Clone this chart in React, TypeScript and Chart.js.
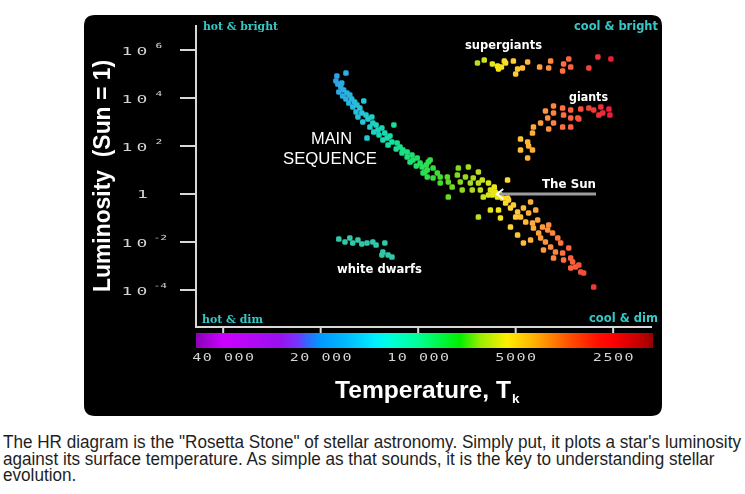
import React, { useEffect, useLayoutEffect, useRef } from 'react';
import { Chart, registerables } from 'chart.js';

Chart.register(...registerables);

// ---------- DATA ----------
// Each star: [log10 temperature (K), log10 luminosity (Sun = 1)]
const MAIN_SEQUENCE: [number, number][] = [
  [4.223, 5.04], [4.251, 4.92], [4.254, 4.71], [4.248, 4.58], [4.236, 4.63], [4.239, 4.46], [4.230, 4.33], [4.245, 4.25], [4.220, 4.21], [4.211, 4.13],
  [4.233, 4.08], [4.223, 3.96], [4.205, 3.96], [4.196, 3.83], [4.214, 3.79], [4.202, 3.63], [4.189, 3.71], [4.180, 3.58], [4.168, 3.88], [4.192, 3.42],
  [4.174, 3.38], [4.186, 3.21], [4.161, 3.29], [4.155, 3.13], [4.143, 3.21], [4.171, 3.00], [4.140, 2.96], [4.149, 2.79], [4.130, 2.88], [4.124, 2.67],
  [4.112, 2.75], [4.137, 2.58], [4.121, 2.46], [4.103, 2.54], [4.096, 2.33], [4.087, 2.42], [4.109, 2.25], [4.075, 2.88], [4.081, 2.17], [4.065, 2.13],
  [4.093, 2.04], [4.056, 1.96], [4.068, 1.88], [4.047, 1.83], [4.050, 1.71], [4.034, 1.75], [4.034, 1.54], [4.019, 1.63], [4.016, 1.42], [4.025, 1.33],
  [4.003, 1.50], [3.994, 1.29], [4.006, 1.17], [3.988, 1.13], [3.975, 1.21], [3.963, 1.42], [3.972, 1.00], [3.954, 1.08], [3.985, 0.88], [3.941, 0.88],
  [3.954, 0.67], [3.972, 0.71], [4.158, 2.33], [3.969, 1.33], [3.979, 0.92], [3.932, 0.71], [3.932, 0.46], [3.910, 0.71], [3.907, 0.50], [3.895, 0.29],
  [3.879, 0.79], [3.876, 1.08], [3.870, 0.50], [3.864, 0.17], [3.854, 0.71], [3.845, 1.13], [3.839, 0.46], [3.833, 0.17], [3.830, 0.67], [3.814, 0.92],
  [3.814, 0.46], [3.808, 0.17], [3.802, 0.58], [3.799, -0.13], [3.783, 0.46], [3.777, 0.17], [3.771, -0.04], [3.762, 0.08], [3.755, -0.13], [3.777, -0.67],
  [3.752, -0.67], [3.746, -1.00], [3.814, -0.96], [3.907, -0.13], [3.724, 0.58], [3.724, -0.17], [3.768, 0.04], [3.740, -0.17], [3.730, -0.38], [3.721, -0.25],
  [3.715, -0.58], [3.706, -0.46], [3.693, -0.75], [3.699, -0.96], [3.684, -0.96], [3.675, -0.58], [3.668, -1.17], [3.659, -0.79], [3.653, -0.33], [3.647, -1.21],
  [3.644, -1.42], [3.631, -1.08], [3.637, -0.67], [3.628, -1.63], [3.622, -1.83], [3.616, -1.38], [3.607, -2.00], [3.600, -1.50], [3.591, -2.21], [3.597, -1.29],
  [3.585, -1.63], [3.576, -2.42], [3.569, -1.83], [3.560, -2.04], [3.554, -2.46], [3.551, -2.75], [3.535, -2.25], [3.529, -2.67], [3.523, -2.83], [3.514, -3.04],
  [3.504, -2.96], [3.498, -3.25], [3.489, -3.29], [3.529, -3.08], [3.715, -1.38], [3.675, -2.04], [3.693, -1.71], [3.653, -1.92], [3.613, -2.33], [3.582, -2.67],
  [3.458, -3.88], [3.765, 0.29], [3.749, 0.00], [3.783, -0.04],
];

const SUPERGIANTS: [number, number][] = [
  [3.817, 5.46], [3.796, 5.58], [3.771, 5.42], [3.755, 5.33], [3.752, 5.21], [3.734, 5.54], [3.730, 5.46], [3.706, 5.54],
  [3.699, 5.00], [3.678, 5.25], [3.662, 5.50], [3.625, 5.29], [3.597, 5.25], [3.591, 5.54], [3.551, 5.42], [3.554, 5.13],
  [3.535, 5.63], [3.529, 5.29], [3.473, 5.25], [3.445, 5.71], [3.405, 5.63], [3.743, 5.29], [3.693, 5.21],
];

const GIANTS: [number, number][] = [
  [3.582, 3.67], [3.554, 3.58], [3.529, 3.50], [3.498, 3.54], [3.473, 3.58], [3.458, 3.50], [3.436, 3.63], [3.430, 3.38],
  [3.411, 3.54], [3.408, 3.29], [3.442, 3.29], [3.507, 3.17], [3.529, 3.17], [3.551, 3.29], [3.582, 3.38], [3.607, 3.46],
  [3.600, 3.17], [3.582, 2.96], [3.554, 2.79], [3.529, 2.79], [3.504, 3.13], [3.622, 2.96], [3.597, 2.71], [3.644, 2.79],
  [3.647, 2.54], [3.684, 2.29], [3.662, 2.17], [3.659, 2.00], [3.684, 1.83], [3.647, 1.83], [3.662, 1.50],
];

const WHITE_DWARFS: [number, number][] = [
  [4.245, -1.88], [4.226, -2.00], [4.211, -1.83], [4.202, -2.04], [4.186, -1.92], [4.174, -2.08], [4.158, -2.04],
  [4.140, -2.00], [4.130, -2.13], [4.103, -2.04], [4.109, -2.42], [4.093, -2.54], [4.081, -2.63], [4.112, -2.54],
];

const SUN: [number, number] = [3.762, 0];

const TEMP_TICKS = [40000, 20000, 10000, 5000, 2500];
const TEMP_TICK_LABELS = ['40 000', '20 000', '10 000', '5000', '2500'];
const LUM_TICK_EXPONENTS = [6, 4, 2, 0, -2, -4];

const X_RANGE = [3.278, 4.686];
const Y_RANGE = [-5.542, 7.042];

const CAPTION_LINES = [
  'The HR diagram is the "Rosetta Stone" of stellar astronomy. Simply put, it plots a star\'s luminosity',
  'against its surface temperature. As simple as that sounds, it is the key to understanding stellar',
  'evolution.',
];

// ---------- STYLE ----------
const POINT_COLOR_STOPS: [number, string][] = [
  [4.26, '#2f9fe8'], [4.17, '#22c8d8'], [4.08, '#14e0a0'], [4.00, '#22e060'], [3.93, '#44dd30'],
  [3.87, '#8cd820'], [3.80, '#c8e020'], [3.76, '#f0ea14'], [3.72, '#ffd632'], [3.66, '#ffb43a'],
  [3.60, '#ff9040'], [3.55, '#ff6e40'], [3.50, '#f85238'], [3.45, '#ee3636'], [3.40, '#f01838'],
];
const WHITE_DWARF_COLOR = '#30c8a8';

const COLORBAR_STOPS: [number, string][] = [
  [4.686, '#8a00b8'], [4.602, '#cc00ff'], [4.426, '#9911ee'], [4.374, '#7733ff'], [4.343, '#3366ff'],
  [4.303, '#0099ff'], [4.220, '#00bbff'], [4.133, '#00eeff'], [4.087, '#00ffdd'], [4.003, '#00ff99'],
  [3.871, '#00ee00'], [3.809, '#99ee00'], [3.726, '#ffee00'], [3.633, '#ffaa00'], [3.540, '#ff5500'],
  [3.448, '#ff1100'], [3.399, '#ff0000'], [3.306, '#bb0000'], [3.278, '#990000'],
];

function hexToRgb(h: string) {
  const n = parseInt(h.slice(1), 16);
  return [(n >> 16) & 255, (n >> 8) & 255, n & 255];
}
function colorAt(stops: [number, string][], v: number) {
  if (v >= stops[0][0]) return stops[0][1];
  for (let i = 0; i < stops.length - 1; i++) {
    const [a, ca] = stops[i];
    const [b, cb] = stops[i + 1];
    if (v <= a && v >= b) {
      const t = (a - v) / (a - b);
      const A = hexToRgb(ca), B = hexToRgb(cb);
      const c = A.map((x, k) => Math.round(x + (B[k] - x) * t));
      return `rgb(${c[0]},${c[1]},${c[2]})`;
    }
  }
  return stops[stops.length - 1][1];
}

function fitText(ctx: CanvasRenderingContext2D, text: string, x: number, y: number, width: number, align: 'left' | 'center' | 'right') {
  const w = ctx.measureText(text).width;
  const s = width / w;
  const x0 = align === 'left' ? x : align === 'center' ? x - width / 2 : x - width;
  ctx.save();
  ctx.translate(x0, y);
  ctx.scale(s, 1);
  ctx.textAlign = 'left';
  ctx.fillText(text, 0, 0);
  ctx.restore();
}

function spacedText(ctx: CanvasRenderingContext2D, text: string, cx: number, cy: number, font: string, spacing: number, sx: number, align: 'center' | 'left' = 'center') {
  ctx.save();
  ctx.font = font;
  (ctx as any).letterSpacing = spacing + 'px';
  ctx.textBaseline = 'middle';
  const w = ctx.measureText(text).width - spacing;
  ctx.translate(cx, cy);
  ctx.scale(sx, 1);
  ctx.textAlign = 'left';
  ctx.fillText(text, align === 'center' ? -w / 2 : 0, 0);
  ctx.restore();
}

function roundRect(ctx: CanvasRenderingContext2D, x: number, y: number, w: number, h: number, r: number) {
  ctx.beginPath();
  ctx.moveTo(x + r, y);
  ctx.lineTo(x + w - r, y);
  ctx.quadraticCurveTo(x + w, y, x + w, y + r);
  ctx.lineTo(x + w, y + h - r);
  ctx.quadraticCurveTo(x + w, y + h, x + w - r, y + h);
  ctx.lineTo(x + r, y + h);
  ctx.quadraticCurveTo(x, y + h, x, y + h - r);
  ctx.lineTo(x, y + r);
  ctx.quadraticCurveTo(x, y, x + r, y);
  ctx.closePath();
}

const CYAN = '#34c8c8';
const AXIS = '#d8d8d8';

const hrPlugin = {
  id: 'hrDecor',
  beforeDraw(chart: any) {
    const ctx: CanvasRenderingContext2D = chart.ctx;
    const { left, right, top, bottom } = chart.chartArea;
    const xs = chart.scales.x, ys = chart.scales.y;
    ctx.save();
    // panel
    ctx.fillStyle = '#000';
    roundRect(ctx, 84, 15, 578, 401, 11);
    ctx.fill();

    // axes
    ctx.strokeStyle = AXIS;
    ctx.lineWidth = 2;
    ctx.beginPath();
    ctx.moveTo(left, top);
    ctx.lineTo(left, bottom);
    ctx.lineTo(right, bottom);
    ctx.stroke();

    // y ticks & labels
    ctx.fillStyle = '#d4d4d4';
    LUM_TICK_EXPONENTS.forEach((e) => {
      const y = ys.getPixelForValue(e);
      ctx.beginPath();
      ctx.moveTo(left - 16, y);
      ctx.lineTo(left, y);
      ctx.stroke();
      if (e === 0) {
        spacedText(ctx, '1', 142.5, y + 1, '10px "DejaVu Sans Mono"', 0, 1.8);
      } else {
        spacedText(ctx, '10', 134.5, y + 2, '10px "DejaVu Sans Mono"', 2.3, 1.8);
        const exp = String(e);
        spacedText(ctx, exp, exp.length > 1 ? 153.6 : 155.6, y - 4, '7px "DejaVu Sans Mono"', 0, 1.6, 'left');
      }
    });

    // x ticks & colour bar
    TEMP_TICKS.forEach((t, i) => {
      const x = xs.getPixelForValue(Math.log10(t));
      ctx.beginPath();
      ctx.moveTo(x, bottom);
      ctx.lineTo(x, bottom + 6);
      ctx.stroke();
      spacedText(ctx, TEMP_TICK_LABELS[i], x, bottom + 31.5, '10px "DejaVu Sans Mono"', 1, 1.5);
    });
    const grad = ctx.createLinearGradient(left, 0, right, 0);
    COLORBAR_STOPS.forEach(([v, c]) => {
      const off = (xs.getPixelForValue(v) - left) / (right - left);
      grad.addColorStop(Math.min(1, Math.max(0, off)), c);
    });
    ctx.fillStyle = grad;
    ctx.fillRect(left, bottom + 6, right - left + 1, 15);

    // axis titles
    ctx.fillStyle = '#ffffff';
    ctx.font = 'bold 24px "Liberation Sans"';
    ctx.textBaseline = 'alphabetic';
    ctx.save();
    ctx.translate(110, 176);
    ctx.rotate(-Math.PI / 2);
    fitText(ctx, 'Luminosity  (Sun = 1)', 0, 0, 232, 'center');
    ctx.restore();
    ctx.font = 'bold 24px "Liberation Sans"';
    fitText(ctx, 'Temperature, T', 335, 397.5, 176, 'left');
    ctx.font = 'bold 12px "Liberation Sans"';
    fitText(ctx, 'k', 512, 403, 7.5, 'left');

    // corner labels
    ctx.fillStyle = CYAN;
    ctx.font = 'bold 11px "DejaVu Serif"';
    fitText(ctx, 'hot & bright', 203, 29.5, 75, 'left');
    fitText(ctx, 'hot & dim', 202, 322.5, 61, 'left');
    ctx.font = 'bold 11.5px "DejaVu Sans"';
    fitText(ctx, 'cool & bright', 658, 29.5, 84, 'right');
    fitText(ctx, 'cool & dim', 658, 322, 69, 'right');
    ctx.restore();
  },
  afterDatasetsDraw(chart: any) {
    const ctx: CanvasRenderingContext2D = chart.ctx;
    const xs = chart.scales.x, ys = chart.scales.y;
    ctx.save();
    ctx.fillStyle = '#ffffff';
    ctx.textBaseline = 'alphabetic';
    ctx.font = 'bold 11.5px "DejaVu Sans"';
    fitText(ctx, 'supergiants', 465, 49, 77, 'left');
    fitText(ctx, 'giants', 569, 101, 39, 'left');
    fitText(ctx, 'white dwarfs', 337, 272.5, 85, 'left');
    ctx.font = 'bold 12.5px "DejaVu Sans"';
    fitText(ctx, 'The Sun', 542, 187.5, 54, 'left');
    ctx.font = '16.5px "Liberation Sans"';
    fitText(ctx, 'MAIN', 331.5, 144, 41, 'center');
    fitText(ctx, 'SEQUENCE', 330, 164, 94, 'center');

    // arrow to the Sun
    const sx = xs.getPixelForValue(SUN[0]);
    const sy = ys.getPixelForValue(SUN[1]);
    ctx.strokeStyle = '#9c9c9c';
    ctx.lineWidth = 3;
    ctx.beginPath();
    ctx.moveTo(sx + 4, sy);
    ctx.lineTo(596, sy);
    ctx.stroke();
    ctx.strokeStyle = '#ffffff';
    ctx.lineWidth = 1.8;
    ctx.beginPath();
    ctx.moveTo(sx + 8, sy - 5);
    ctx.lineTo(sx + 1.5, sy);
    ctx.lineTo(sx + 8, sy + 5);
    ctx.stroke();
    ctx.restore();
  },
};

function toPoints(arr: [number, number][]) {
  return arr.map(([x, y]) => ({ x, y }));
}

function HRChart() {
  const ref = useRef<HTMLCanvasElement>(null);
  useEffect(() => {
    if (!ref.current) return;
    const mk = (arr: [number, number][], color?: string) => ({
      data: toPoints(arr),
      pointBackgroundColor: arr.map(([t]) => color ?? colorAt(POINT_COLOR_STOPS, t)),
      pointBorderWidth: 0,
      pointRadius: 3.2,
      pointHoverRadius: 3.2,
      pointStyle: 'rectRounded',
    });
    const chart = new Chart(ref.current, {
      type: 'scatter',
      data: {
        datasets: [
          { label: 'Main sequence', ...mk(MAIN_SEQUENCE) },
          { label: 'Supergiants', ...mk(SUPERGIANTS) },
          { label: 'Giants', ...mk(GIANTS) },
          { label: 'White dwarfs', ...mk(WHITE_DWARFS, WHITE_DWARF_COLOR) },
        ] as any,
      },
      options: {
        animation: false,
        responsive: false,
        devicePixelRatio: 1,
        events: [],
        layout: { padding: { left: 196, right: 93, top: 25, bottom: 93 } },
        plugins: { legend: { display: false }, tooltip: { enabled: false }, title: { display: false } },
        scales: {
          x: { type: 'linear', min: X_RANGE[0], max: X_RANGE[1], reverse: true, display: false },
          y: { type: 'linear', min: Y_RANGE[0], max: Y_RANGE[1], display: false },
        },
      },
      plugins: [hrPlugin],
    } as any);
    return () => chart.destroy();
  }, []);
  return <canvas ref={ref} width={745} height={420} style={{ display: 'block', position: 'absolute', left: 0, top: 0 }} />;
}

function Caption() {
  const ref = useRef<HTMLDivElement>(null);
  useLayoutEffect(() => {
    const el = ref.current;
    if (!el) return;
    const first = el.children[0] as HTMLElement;
    const w = first.getBoundingClientRect().width;
    const s = 738 / w;
    Array.from(el.children).forEach((c) => {
      (c as HTMLElement).style.transform = `scaleX(${s})`;
    });
  }, []);
  return (
    <div
      ref={ref}
      style={{
        position: 'absolute', left: 3, top: 434, fontFamily: '"Liberation Sans", Arial, sans-serif',
        fontSize: 17.5, lineHeight: '16.5px', color: '#1e1e1e',
      }}
    >
      {CAPTION_LINES.map((l, i) => (
        <div key={i} style={{ whiteSpace: 'nowrap', width: 'max-content', transformOrigin: '0 0' }}>{l}</div>
      ))}
    </div>
  );
}

export default function App() {
  return (
    <div style={{ position: 'absolute', left: 0, top: 0, width: 745, height: 494, background: '#fff', overflow: 'hidden' }}>
      <HRChart />
      <Caption />
    </div>
  );
}
